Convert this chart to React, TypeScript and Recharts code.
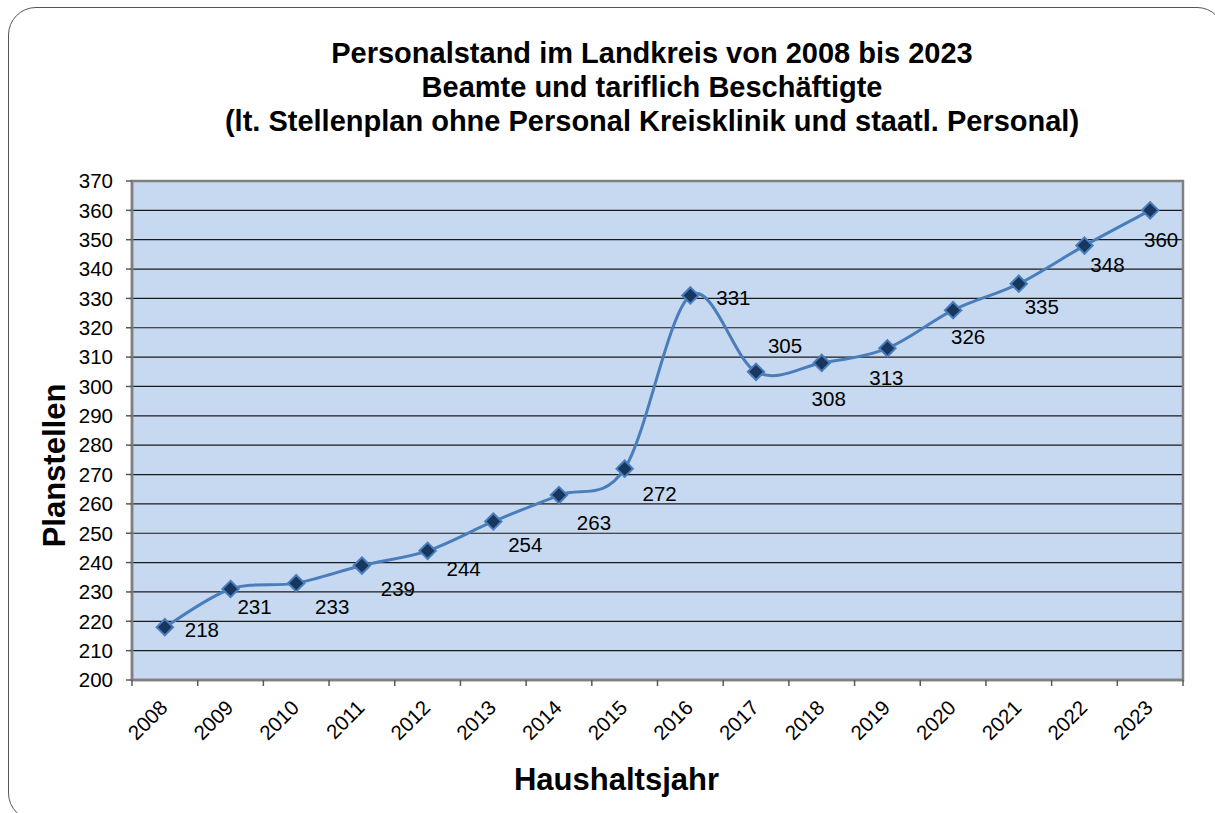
import React from 'react';
import { LineChart, Line, XAxis, YAxis, CartesianGrid, ReferenceArea } from 'recharts';

const years = ['2008', '2009', '2010', '2011', '2012', '2013', '2014', '2015', '2016', '2017', '2018', '2019', '2020', '2021', '2022', '2023'];
const planstellen = [218, 231, 233, 239, 244, 254, 263, 272, 331, 305, 308, 313, 326, 335, 348, 360];
const yTicks = [200, 210, 220, 230, 240, 250, 260, 270, 280, 290, 300, 310, 320, 330, 340, 350, 360, 370];
const xBoundaries = [0, 1, 2, 3, 4, 5, 6, 7, 8, 9, 10, 11, 12, 13, 14, 15, 16];
const titleLines = [
  'Personalstand im Landkreis von 2008 bis 2023',
  'Beamte und tariflich Beschäftigte',
  '(lt. Stellenplan ohne Personal Kreisklinik und staatl. Personal)',
];
const yAxisTitle = 'Planstellen';
const xAxisTitle = 'Haushaltsjahr';

// label placement (layout only): offset of each data label centre from its point
const labelOffsets: [number, number][] = [
  [37, 2], [24, 17], [36, 23], [36, 23], [36, 18], [32, 23], [35, 27], [35, 25],
  [43, 2], [29, -26], [7, 36], [-1, 29], [15, 26], [23, 23], [23, 19], [11, 29],
];

const data = years.map((y, i) => ({ year: y, pos: i + 0.5, value: planstellen[i] }));

const FONT = '"Liberation Sans", Arial, Helvetica, sans-serif';
const W = 1215;
const H = 813;
const PLOT_LEFT = 132;
const PLOT_RIGHT = 1183;
const PLOT_TOP = 181;
const PLOT_BOTTOM = 680;
const BW = (PLOT_RIGHT - PLOT_LEFT) / years.length;

function excelSmooth(context: any) {
  let pts: [number, number][] = [];
  return {
    areaStart() {},
    areaEnd() {},
    lineStart() {
      pts = [];
    },
    point(x: number, y: number) {
      pts.push([+x, +y]);
    },
    lineEnd() {
      const n = pts.length;
      if (n === 0) return;
      context.moveTo(pts[0][0], pts[0][1]);
      for (let i = 0; i < n - 1; i++) {
        const p0 = pts[Math.max(0, i - 1)];
        const p1 = pts[i];
        const p2 = pts[i + 1];
        const p3 = pts[Math.min(n - 1, i + 2)];
        const c1x = p1[0] + (p2[0] - p0[0]) / 6;
        const c1y = p1[1] + (p2[1] - p0[1]) / 6;
        const c2x = p2[0] - (p3[0] - p1[0]) / 6;
        const c2y = p2[1] - (p3[1] - p1[1]) / 6;
        context.bezierCurveTo(c1x, c1y, c2x, c2y, p2[0], p2[1]);
      }
    },
  };
}

const DiamondDot = (props: any) => {
  const { cx, cy, index, payload } = props;
  if (cx == null || cy == null) return <g key={`d-${index}`} />;
  const r = 8.2;
  const [dx, dy] = labelOffsets[index] || [30, 20];
  return (
    <g key={`d-${index}`}>
      <polygon
        points={`${cx},${cy - r} ${cx + r},${cy} ${cx},${cy + r} ${cx - r},${cy}`}
        fill="#17375E"
        stroke="#4A7EBB"
        strokeWidth={2}
      />
      <text
        x={cx + dx}
        y={cy + dy}
        textAnchor="middle"
        dominantBaseline="central"
        fontFamily={FONT}
        fontSize={20.5}
        fill="#000"
      >
        {payload.value}
      </text>
    </g>
  );
};

const XTick = (props: any) => {
  const { x, y, payload } = props;
  const idx = payload.value;
  if (idx >= years.length) return <g />;
  const tx = x + BW / 2 + 4;
  const ty = y + 21;
  return (
    <text
      x={tx}
      y={ty}
      textAnchor="end"
      transform={`rotate(-45, ${tx}, ${ty})`}
      fontFamily={FONT}
      fontSize={20.5}
      fill="#000"
    >
      {years[idx]}
    </text>
  );
};

export default function App() {
  return (
    <div style={{ position: 'absolute', left: 0, top: 0, width: W, height: H, overflow: 'hidden', background: '#fff' }}>
      <div
        style={{
          position: 'absolute',
          left: 8,
          top: 7,
          width: W + 10 - 8,
          height: H + 8 - 7,
          border: '1.5px solid #555',
          borderRadius: 28,
          boxSizing: 'border-box',
        }}
      />
      <div style={{ position: 'absolute', left: 0, top: 0 }}>
        <LineChart
          width={W}
          height={H}
          data={data}
          margin={{ top: PLOT_TOP, right: W - PLOT_RIGHT, bottom: 0, left: 0 }}
        >
          <CartesianGrid
            horizontal={true}
            vertical={false}
            fill="#C6D9F1"
            fillOpacity={1}
            stroke="#1a1a1a"
            strokeWidth={1.2}
          />
          <XAxis
            type="number"
            dataKey="pos"
            domain={[0, years.length]}
            ticks={xBoundaries}
            interval={0}
            height={H - PLOT_BOTTOM}
            tickSize={6}
            tickMargin={2}
            tickLine={{ stroke: '#595959', strokeWidth: 1.5 }}
            axisLine={{ stroke: '#808080', strokeWidth: 2.5 }}
            tick={<XTick />}
            allowDataOverflow
          />
          <YAxis
            type="number"
            domain={[200, 370]}
            ticks={yTicks}
            interval={0}
            width={PLOT_LEFT}
            tickSize={6}
            tickMargin={13}
            tickLine={{ stroke: '#595959', strokeWidth: 1.5 }}
            axisLine={{ stroke: '#808080', strokeWidth: 2.5 }}
            tick={{ fontFamily: FONT, fontSize: 20.5, fill: '#000' }}
            allowDataOverflow
          />
          <ReferenceArea
            x1={0}
            x2={years.length}
            y1={200}
            y2={370}
            fill="none"
            stroke="#808080"
            strokeWidth={2.5}
            ifOverflow="visible"
          />
          <Line
            dataKey="value"
            type={excelSmooth as any}
            stroke="#4A7EBB"
            strokeWidth={3}
            dot={DiamondDot}
            activeDot={false}
            isAnimationActive={false}
          />
        </LineChart>
      </div>
      <svg
        width={W}
        height={H}
        style={{ position: 'absolute', left: 0, top: 0, pointerEvents: 'none' }}
      >
        {titleLines.map((t, i) => (
          <text
            key={i}
            x={652}
            y={63 + i * 34}
            textAnchor="middle"
            fontFamily={FONT}
            fontWeight="bold"
            fontSize={29}
            fill="#000"
          >
            {t}
          </text>
        ))}
        <text
          x={65}
          y={465.5}
          textAnchor="middle"
          transform="rotate(-90, 65, 465.5)"
          fontFamily={FONT}
          fontWeight="bold"
          fontSize={31}
          fill="#000"
        >
          {yAxisTitle}
        </text>
        <text
          x={616.5}
          y={790}
          textAnchor="middle"
          fontFamily={FONT}
          fontWeight="bold"
          fontSize={31}
          fill="#000"
        >
          {xAxisTitle}
        </text>
      </svg>
    </div>
  );
}
